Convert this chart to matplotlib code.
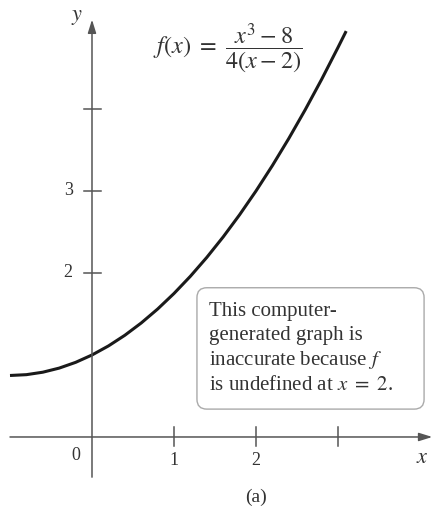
import matplotlib.pyplot as plt
from matplotlib.patches import FancyBboxPatch

plt.rcParams['font.family'] = ['Liberation Serif', 'DejaVu Serif']
plt.rcParams['mathtext.fontset'] = 'stix'

# points on y = f(x), sampled every 0.2
xs = [-1.0, -0.8, -0.6, -0.4, -0.2, 0.0, 0.2, 0.4, 0.6, 0.8, 1.0,
      1.2, 1.4, 1.6, 1.8, 2.0, 2.2, 2.4, 2.6, 2.8, 3.0, 3.1]
ys = [0.75, 0.76, 0.79, 0.84, 0.91, 1.0, 1.11, 1.24, 1.39, 1.56, 1.75,
      1.96, 2.19, 2.44, 2.71, 3.0, 3.31, 3.64, 3.99, 4.36, 4.75, 4.95]

x_ticks = [1, 2, 3]
x_tick_labels = ['1', '2', '']
y_ticks = [2, 3, 4]
y_tick_labels = ['2', '3', '']

ink = '#333333'
axis_col = '#555555'

fig = plt.figure(figsize=(4.34, 5.13), dpi=100)
ax = fig.add_axes([0, 0, 1, 1])
ax.set_xlim(-1.122, 4.171)
ax.set_ylim(-0.927, 5.329)
ax.axis('off')

# axes with arrow heads
ax.annotate('', xy=(4.15, 0), xytext=(-1.0, 0),
            arrowprops=dict(arrowstyle='-|>,head_length=0.8,head_width=0.25',
                            color=axis_col, lw=1.1, shrinkA=0, shrinkB=0))
ax.annotate('', xy=(0, 5.09), xytext=(0, -0.49),
            arrowprops=dict(arrowstyle='-|>,head_length=0.8,head_width=0.25',
                            color=axis_col, lw=1.1, shrinkA=0, shrinkB=0))

for t, lab in zip(x_ticks, x_tick_labels):
    ax.plot([t, t], [-0.11, 0.12], color=axis_col, lw=1.1)
    ax.text(t, -0.29, lab, ha='center', va='center', fontsize=13, color=ink)
for t, lab in zip(y_ticks, y_tick_labels):
    ax.plot([-0.1, 0.11], [t, t], color=axis_col, lw=1.1)
    ax.text(-0.29, t, lab, ha='center', va='center', fontsize=13, color=ink)

ax.text(-0.2, -0.23, '0', ha='center', va='center', fontsize=13, color=ink)
ax.text(4.03, -0.26, '$x$', ha='center', va='center', fontsize=16, color=ink)
ax.text(-0.18, 5.12, '$y$', ha='center', va='center', fontsize=16, color=ink)
ax.text(2.0, -0.73, '(a)', ha='center', va='center', fontsize=14, color=ink)

ax.plot(xs, ys, color='#1a1a1a', lw=2.2, solid_capstyle='butt')

ax.text(1.66, 4.74, r'$f(x)\ =\ \dfrac{x^3 - 8}{4(x - 2)}$',
        ha='center', va='center', fontsize=17.5, color=ink)

# note box
box = FancyBboxPatch((1.28, 0.34), 2.77, 1.48,
                     boxstyle='round,pad=0,rounding_size=0.12',
                     fc='white', ec='#aaaaaa', lw=1.0)
ax.add_patch(box)
note = ('This computer-\ngenerated graph is\n'
        'inaccurate because $f$\nis undefined at $x\\ =\\ 2$.')
ax.text(1.43, 1.08, note, ha='left', va='center', fontsize=15,
        linespacing=1.3, color=ink)

fig.savefig('out.png', dpi=100)
